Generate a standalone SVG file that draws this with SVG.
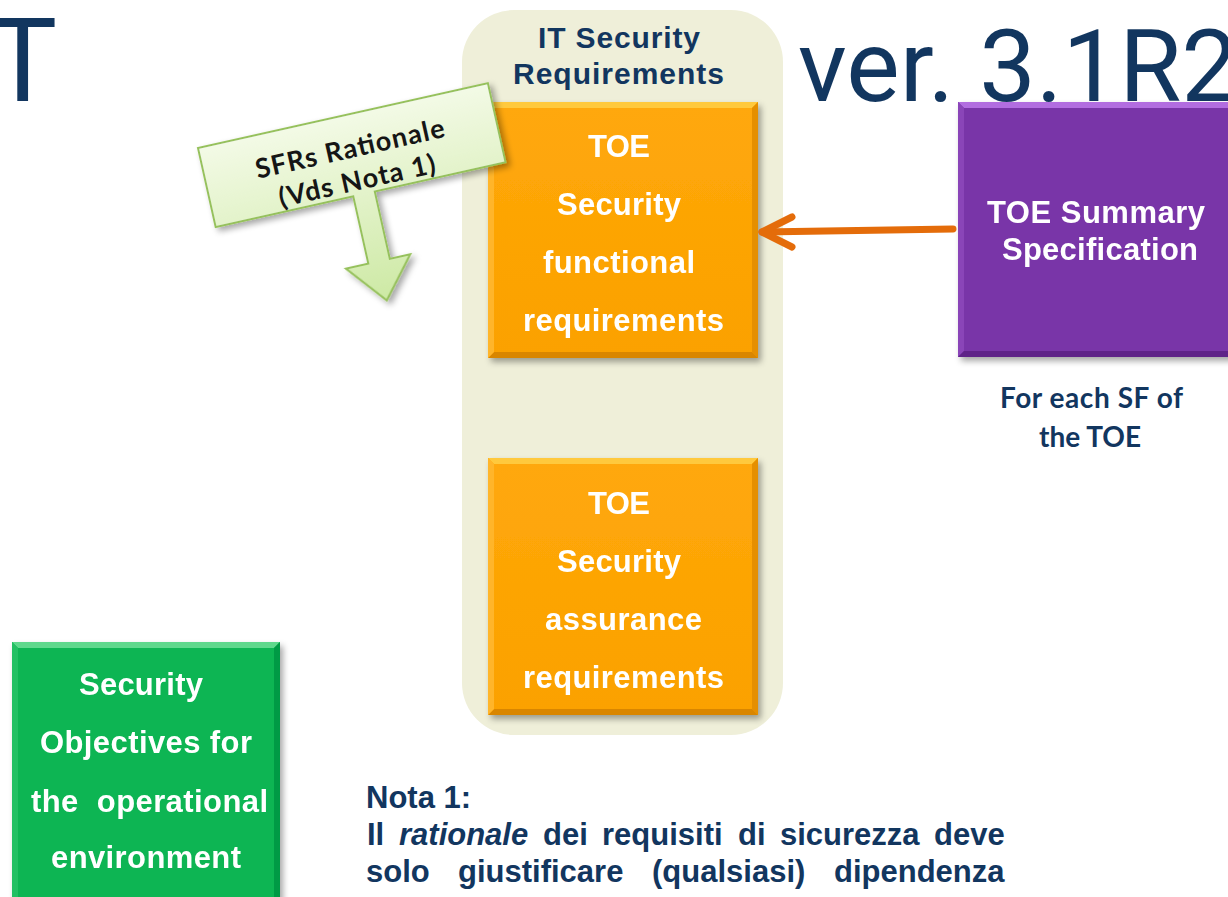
<svg xmlns="http://www.w3.org/2000/svg" width="1228" height="897" viewBox="0 0 1228 897">
<style>
.title{font-family:Roboto,"Liberation Sans",sans-serif;fill:#12365f;}
.hdr{font-family:"Liberation Sans",Arial,sans-serif;font-weight:bold;fill:#12365f;font-size:30px;text-anchor:middle;}
.wt{font-family:"Liberation Sans",Arial,sans-serif;font-weight:bold;fill:#ffffff;font-size:31px;text-anchor:middle;}
.cal{font-family:Lato,"Open Sans",sans-serif;font-weight:bold;}
.nota{font-family:"Liberation Sans",Arial,sans-serif;font-weight:bold;fill:#12365f;font-size:31px;}
</style>
<defs>
<filter id="sh" x="-10%" y="-10%" width="130%" height="130%">
<feDropShadow dx="3" dy="4" stdDeviation="3" flood-color="#000" flood-opacity="0.35"/>
</filter>
<linearGradient id="gOr" x1="0" y1="0" x2="0" y2="1">
<stop offset="0" stop-color="#ffa80a"/><stop offset="1" stop-color="#fba100"/>
</linearGradient>
<linearGradient id="gCall" x1="0" y1="0" x2="0" y2="1">
<stop offset="0" stop-color="#f3fae6"/><stop offset="1" stop-color="#cde9a4"/>
</linearGradient>
</defs>

<g id="title">
<text class="title" x="-12" y="101" font-size="116">T</text>
<text class="title" x="798" y="101" font-size="100" textLength="440" lengthAdjust="spacingAndGlyphs">ver. 3.1R2</text>
</g>

<g id="it-security-requirements">
<rect x="462" y="10" width="321" height="725" rx="52" ry="52" fill="#efefd9"/>
<text class="hdr" x="619" y="48" textLength="162">IT Security</text>
<text class="hdr" x="618.5" y="84" textLength="211">Requirements</text>
</g>

<g id="toe-sfr" filter="url(#sh)">
<rect x="488" y="102" width="270" height="256" fill="url(#gOr)"/>
<polygon points="488,102 758,102 752,108 494,108" fill="#ffc93c"/>
<polygon points="758,102 758,358 752,352 752,108" fill="#e58f00"/>
<polygon points="488,358 758,358 752,352 494,352" fill="#d98600"/>
<polygon points="488,102 494,108 494,352 488,358" fill="#ffb52a"/>
<text class="wt" x="619" y="157" textLength="62">TOE</text>
<text class="wt" x="619" y="215" textLength="124">Security</text>
<text class="wt" x="619" y="273" textLength="152">functional</text>
<text class="wt" x="623.5" y="331" textLength="201">requirements</text>
</g>

<g id="toe-sar" filter="url(#sh)">
<rect x="488" y="458" width="270" height="257" fill="url(#gOr)"/>
<polygon points="488,458 758,458 752,464 494,464" fill="#ffc93c"/>
<polygon points="758,458 758,715 752,709 752,464" fill="#e58f00"/>
<polygon points="488,715 758,715 752,709 494,709" fill="#d98600"/>
<polygon points="488,458 494,464 494,709 488,715" fill="#ffb52a"/>
<text class="wt" x="619" y="514" textLength="62">TOE</text>
<text class="wt" x="619" y="572" textLength="124">Security</text>
<text class="wt" x="623.5" y="630" textLength="157">assurance</text>
<text class="wt" x="623.5" y="688" textLength="201">requirements</text>
</g>

<g id="toe-summary" filter="url(#sh)">
<rect x="958" y="102" width="275" height="255" fill="#7934a8"/>
<polygon points="958,102 1233,102 1233,108 964,108" fill="#b26de0"/>
<polygon points="958,102 964,108 964,351 958,357" fill="#8a45b8"/>
<polygon points="958,357 1233,357 1233,351 964,351" fill="#5e2388"/>
<text class="wt" x="1096" y="223" textLength="218">TOE Summary</text>
<text class="wt" x="1100" y="260" textLength="196">Specification</text>
</g>

<g id="for-each-sf">
<text class="cal" x="1091.5" y="408" font-size="28" fill="#12365f" text-anchor="middle" textLength="183">For each SF of</text>
<text class="cal" x="1090" y="447" font-size="28" fill="#12365f" text-anchor="middle" textLength="102">the TOE</text>
</g>

<g id="sec-obj-env" filter="url(#sh)">
<rect x="12" y="642" width="268" height="260" fill="#08b552"/>
<polygon points="12,642 280,642 274,648 18,648" fill="#5ed88c"/>
<polygon points="280,642 280,902 274,902 274,648" fill="#049a44"/>
<polygon points="12,642 18,648 18,902 12,902" fill="#22c064"/>
<text class="wt" x="141" y="695" textLength="124">Security</text>
<text class="wt" x="146" y="753" textLength="212">Objectives for</text>
<text class="wt" x="149.5" y="812" textLength="237" style="white-space:pre">the  operational</text>
<text class="wt" x="146" y="868" textLength="190">environment</text>
</g>

<g id="connectors">
<g fill="none" stroke="#e46c0a" stroke-width="7" stroke-linecap="round" stroke-linejoin="round">
<path d="M953,229 L762,232"/>
<path d="M792,217 L762,232 L792,247"/>
</g>
</g>

<g id="sfr-callout" transform="translate(198,148) rotate(-12.6)">
<path d="M0,0 H297 V81 H163 V150 H184 L151,190 L118,150 H141 V81 H0 Z" fill="url(#gCall)" stroke="#96c15c" stroke-width="2" filter="url(#sh)"/>
<text class="cal" x="148" y="43" font-size="27" fill="#151515" text-anchor="middle" textLength="193">SFRs Rationale</text>
<text class="cal" x="148" y="76" font-size="27" fill="#151515" text-anchor="middle" textLength="160">(Vds Nota 1)</text>
</g>

<g id="nota">
<text class="nota" x="366" y="808">Nota 1:</text>
<text class="nota" y="845"><tspan x="367">Il</tspan><tspan x="399" font-style="italic">rationale</tspan><tspan x="543">dei</tspan><tspan x="602">requisiti</tspan><tspan x="738">di</tspan><tspan x="780">sicurezza</tspan><tspan x="934">deve</tspan></text>
<text class="nota" y="882"><tspan x="366">solo</tspan><tspan x="458">giustificare</tspan><tspan x="652">(qualsiasi)</tspan><tspan x="834">dipendenza</tspan></text>
</g>
</svg>
